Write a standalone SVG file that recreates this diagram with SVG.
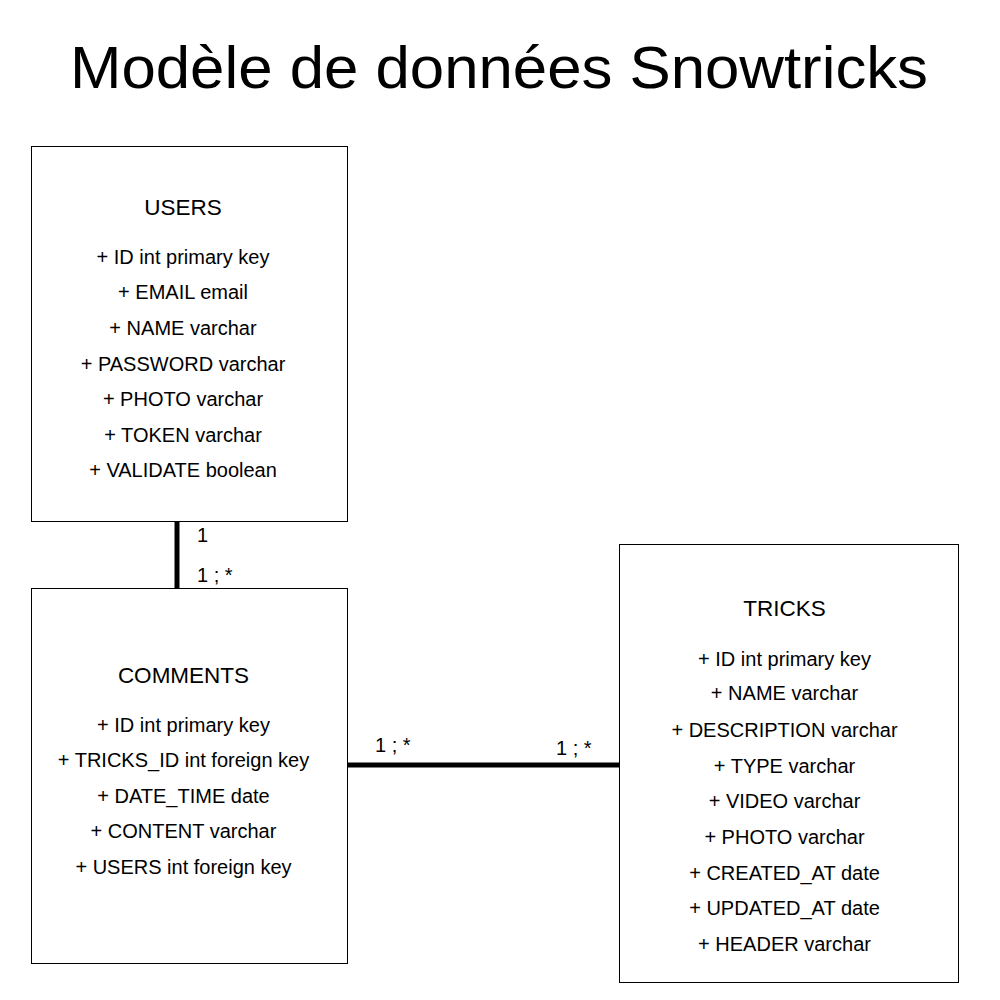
<svg xmlns="http://www.w3.org/2000/svg" width="1000" height="1000" viewBox="0 0 1000 1000">
<style>
.box{fill:#fff;stroke:#000;stroke-width:1}
text{font-family:"Liberation Sans",Arial,sans-serif;fill:#000}
.t{font-size:22.5px;text-anchor:middle}
.a{font-size:20px;text-anchor:middle}
.l{font-size:20px}
.c{stroke:#000;stroke-width:5;fill:none}
</style>
<rect width="1000" height="1000" fill="#fff"/>
<text x="499" y="88" font-size="60" text-anchor="middle" textLength="858" lengthAdjust="spacingAndGlyphs">Modèle de données Snowtricks</text>
<g id="connectors">
<line class="c" x1="177" y1="521" x2="177" y2="588"/>
<line class="c" x1="347" y1="765" x2="619" y2="765"/>
<text class="l" x="197" y="542">1</text>
<text class="l" x="197" y="582">1 ; *</text>
<text class="l" x="375" y="752">1 ; *</text>
<text class="l" x="556" y="755">1 ; *</text>
</g>
<g id="users">
<rect class="box" x="31.5" y="146.5" width="316" height="375"/>
<text class="t" x="183" y="215">USERS</text>
<text class="a" x="183" y="264">+ ID int primary key</text>
<text class="a" x="183" y="299">+ EMAIL email</text>
<text class="a" x="183" y="335">+ NAME varchar</text>
<text class="a" x="183" y="371">+ PASSWORD varchar</text>
<text class="a" x="183" y="406">+ PHOTO varchar</text>
<text class="a" x="183" y="442">+ TOKEN varchar</text>
<text class="a" x="183" y="477">+ VALIDATE boolean</text>
</g>
<g id="comments">
<rect class="box" x="31.5" y="588.5" width="316" height="375"/>
<text class="t" x="183.5" y="683">COMMENTS</text>
<text class="a" x="183.5" y="732">+ ID int primary key</text>
<text class="a" x="183.5" y="767">+ TRICKS_ID int foreign key</text>
<text class="a" x="183.5" y="803">+ DATE_TIME date</text>
<text class="a" x="183.5" y="838">+ CONTENT varchar</text>
<text class="a" x="183.5" y="874">+ USERS int foreign key</text>
</g>
<g id="tricks">
<rect class="box" x="619.5" y="544.5" width="339" height="438"/>
<text class="t" x="784.5" y="616">TRICKS</text>
<text class="a" x="784.5" y="666">+ ID int primary key</text>
<text class="a" x="784.5" y="700">+ NAME varchar</text>
<text class="a" x="784.5" y="737">+ DESCRIPTION varchar</text>
<text class="a" x="784.5" y="773">+ TYPE varchar</text>
<text class="a" x="784.5" y="808">+ VIDEO varchar</text>
<text class="a" x="784.5" y="844">+ PHOTO varchar</text>
<text class="a" x="784.5" y="880">+ CREATED_AT date</text>
<text class="a" x="784.5" y="915">+ UPDATED_AT date</text>
<text class="a" x="784.5" y="951">+ HEADER varchar</text>
</g>
</svg>
